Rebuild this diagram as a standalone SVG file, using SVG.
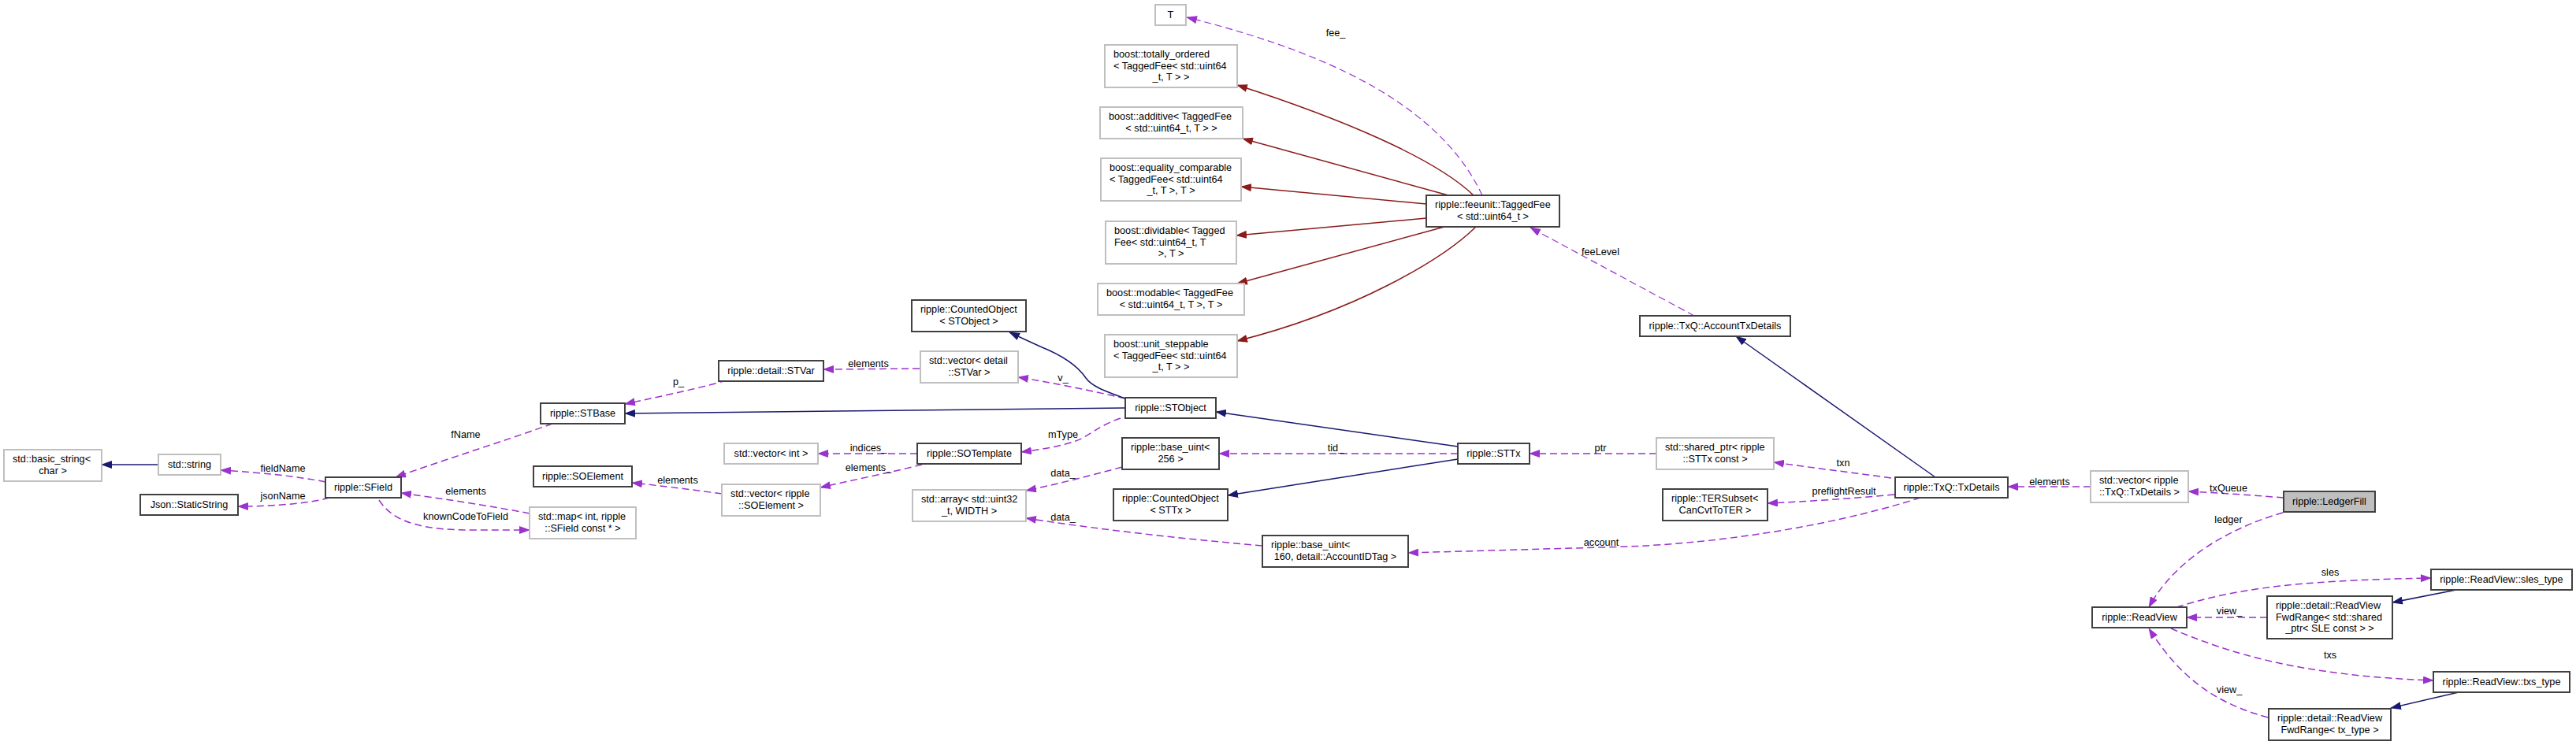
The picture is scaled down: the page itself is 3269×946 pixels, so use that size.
<svg xmlns="http://www.w3.org/2000/svg" width="3269" height="946" viewBox="0 0 3269 946">
<defs>
<style>
text{font-family:"Liberation Sans",Arial,Helvetica,sans-serif;font-size:12.7px;fill:#000}
.m{text-anchor:middle}
.doc rect{fill:#fff;stroke:#404040;stroke-width:2}
.und rect{fill:#fff;stroke:#bfbfbf;stroke-width:2}
.cur rect{fill:#bfbfbf;stroke:#404040;stroke-width:2}
#edges path{fill:none}
.inh{stroke:#191970;stroke-width:1.5;marker-end:url(#aN)}
.prv{stroke:#8b1a1a;stroke-width:1.5;marker-end:url(#aR)}
.use{stroke:#9a32cd;stroke-width:1.5;stroke-dasharray:9,5;marker-end:url(#aP)}
</style>
<marker id="aN" viewBox="0 0 14 10" refX="13" refY="5" markerWidth="14" markerHeight="10" markerUnits="userSpaceOnUse" orient="auto"><path d="M0,0 L14,5 L0,10 z" fill="#191970"/></marker>
<marker id="aR" viewBox="0 0 14 10" refX="13" refY="5" markerWidth="14" markerHeight="10" markerUnits="userSpaceOnUse" orient="auto"><path d="M0,0 L14,5 L0,10 z" fill="#8b1a1a"/></marker>
<marker id="aP" viewBox="0 0 14 10" refX="13" refY="5" markerWidth="14" markerHeight="10" markerUnits="userSpaceOnUse" orient="auto"><path d="M0,0 L14,5 L0,10 z" fill="#9a32cd"/></marker>
</defs>
<rect x="0" y="0" width="3269" height="946" fill="#fff"/>

<g id="edges">
<path class="inh" d="M201,590 L129,590"/>
<path class="use" d="M413,612 C380,605 330,600 280,597"/>
<path class="use" d="M418,632 C390,640 340,643 302,643"/>
<path class="use" d="M701,538 C640,560 560,585 502,606"/>
<path class="use" d="M672,652 C620,642 560,633 509,626"/>
<path class="use" d="M481,635 C500,665 540,673 600,673 L672,673"/>
<path class="use" d="M922,483 C880,495 830,505 793,513"/>
<path class="inh" d="M1428,518 L793,525"/>
<path class="use" d="M1167,468 L1045,469"/>
<path class="use" d="M1428,506 C1380,495 1330,485 1292,479"/>
<path class="inh" d="M1428,506 C1400,496 1385,490 1378,480 C1368,465 1350,452 1320,440 L1281,422"/>
<path class="use" d="M1422,531 C1395,540 1380,555 1365,560 C1345,567 1320,571 1296,574"/>
<path class="use" d="M1164,576 L1038,576"/>
<path class="use" d="M1170,590 C1130,600 1080,610 1041,619"/>
<path class="use" d="M916,627 C880,622 840,617 802,613"/>
<path class="use" d="M1424,593 C1380,605 1340,615 1302,623"/>
<path class="use" d="M1602,693 C1500,684 1400,673 1302,658"/>
<path class="use" d="M1850,576 L1547,576"/>
<path class="inh" d="M1850,567 L1543,523"/>
<path class="inh" d="M1850,583 L1558,629"/>
<path class="use" d="M2102,576 L1941,576"/>
<path class="use" d="M2400,607 C2350,600 2300,594 2251,587"/>
<path class="use" d="M2404,628 C2350,633 2290,637 2243,639"/>
<path class="use" d="M2437,632 C2350,660 2200,692 2032,695 L1787,702"/>
<path class="inh" d="M2456,606 L2203,427"/>
<path class="use" d="M2150,401 L1942,289" style="stroke-width:1.2"/>
<path class="use" d="M1881,248 C1835,150 1720,75 1506,22" style="stroke-width:1.2"/>
<path class="prv" d="M1870,248 C1820,200 1700,150 1570,108"/>
<path class="prv" d="M1838,248 L1577,176"/>
<path class="prv" d="M1810,259 L1575,237"/>
<path class="prv" d="M1810,277 L1569,299"/>
<path class="prv" d="M1833,288 L1570,360"/>
<path class="prv" d="M1873,288 C1830,330 1720,395 1570,433"/>
<path class="use" d="M2898,632 C2860,629 2820,626 2777,624"/>
<path class="use" d="M2653,618 L2548,618"/>
<path class="use" d="M2897,651 C2830,670 2760,710 2727,771"/>
<path class="use" d="M2762,771 C2830,750 2900,737 3085,734"/>
<path class="inh" d="M3117,749 L3036,765"/>
<path class="use" d="M2877,784 L2775,784"/>
<path class="use" d="M2755,798 C2830,830 2920,858 3088,864"/>
<path class="inh" d="M3120,879 L3034,899"/>
<path class="use" d="M2878,911 C2800,890 2760,850 2727,798"/>
<g class="lbl">
<text class="m" x="359" y="598.5">fieldName</text>
<text class="m" x="359" y="633.5">jsonName</text>
<text class="m" x="591" y="555.5">fName</text>
<text class="m" x="591" y="627.5">elements</text>
<text class="m" x="591" y="659.5">knownCodeToField</text>
<text class="m" x="861" y="488.5">p_</text>
<text class="m" x="1102" y="465.5">elements</text>
<text class="m" x="1349" y="483.5">v_</text>
<text class="m" x="1349" y="555.5">mType</text>
<text class="m" x="1102" y="572.5">indices_</text>
<text class="m" x="1102" y="597.5">elements_</text>
<text class="m" x="860" y="613.5">elements</text>
<text class="m" x="1349" y="604.5">data_</text>
<text class="m" x="1349" y="660.5">data_</text>
<text class="m" x="1695" y="572.5">tid_</text>
<text class="m" x="2031" y="572.5">ptr</text>
<text class="m" x="2339" y="591.5">txn</text>
<text class="m" x="2340" y="627.5">preflightResult</text>
<text class="m" x="2032" y="692.5">account</text>
<text class="m" x="2031" y="323.5">feeLevel</text>
<text class="m" x="1695" y="45.5">fee_</text>
<text class="m" x="2828" y="623.5">txQueue</text>
<text class="m" x="2601" y="615.5">elements</text>
<text class="m" x="2828" y="663.5">ledger</text>
<text class="m" x="2957" y="730.5">sles</text>
<text class="m" x="2829" y="779.5">view_</text>
<text class="m" x="2957" y="835.5">txs</text>
<text class="m" x="2829" y="879.5">view_</text>
</g>
</g>

<g id="n_T" class="und"><rect x="1466" y="6" width="39" height="26"/><text class="m" x="1485.5" y="22.5">T</text></g>
<g id="n_totally_ordered" class="und"><rect x="1402" y="57" width="168" height="54"/><text x="1413" y="73">boost::totally_ordered</text><text x="1413" y="87.5">&lt; TaggedFee&lt; std::uint64</text><text class="m" x="1486" y="102">_t, T &gt; &gt;</text></g>
<g id="n_additive" class="und"><rect x="1396" y="136" width="181" height="40"/><text x="1407" y="152.25">boost::additive&lt; TaggedFee</text><text class="m" x="1486.5" y="166.75">&lt; std::uint64_t, T &gt; &gt;</text></g>
<g id="n_equality" class="und"><rect x="1397" y="201" width="178" height="54"/><text x="1408" y="217">boost::equality_comparable</text><text x="1408" y="231.5">&lt; TaggedFee&lt; std::uint64</text><text class="m" x="1486" y="246">_t, T &gt;, T &gt;</text></g>
<g id="n_dividable" class="und"><rect x="1403" y="281" width="166" height="54"/><text x="1414" y="297">boost::dividable&lt; Tagged</text><text x="1414" y="311.5">Fee&lt; std::uint64_t, T</text><text class="m" x="1486" y="326">&gt;, T &gt;</text></g>
<g id="n_modable" class="und"><rect x="1393" y="360" width="186" height="40"/><text x="1404" y="376.25">boost::modable&lt; TaggedFee</text><text class="m" x="1486" y="390.75">&lt; std::uint64_t, T &gt;, T &gt;</text></g>
<g id="n_unit_steppable" class="und"><rect x="1402" y="425" width="168" height="54"/><text x="1413" y="441">boost::unit_steppable</text><text x="1413" y="455.5">&lt; TaggedFee&lt; std::uint64</text><text class="m" x="1486" y="470">_t, T &gt; &gt;</text></g>
<g id="n_TaggedFee" class="doc"><rect x="1810" y="248" width="169" height="40"/><text x="1821" y="264.25">ripple::feeunit::TaggedFee</text><text class="m" x="1894.5" y="278.75">&lt; std::uint64_t &gt;</text></g>
<g id="n_CountedObject_STObject" class="doc"><rect x="1157" y="381" width="145" height="40"/><text x="1168" y="397.25">ripple::CountedObject</text><text class="m" x="1229.5" y="411.75">&lt; STObject &gt;</text></g>
<g id="n_STVar" class="doc"><rect x="912" y="458" width="133" height="26"/><text class="m" x="978.5" y="474.5">ripple::detail::STVar</text></g>
<g id="n_vector_STVar" class="und"><rect x="1168" y="446" width="124" height="40"/><text x="1179" y="462.25">std::vector&lt; detail</text><text class="m" x="1230" y="476.75">::STVar &gt;</text></g>
<g id="n_STBase" class="doc"><rect x="686" y="512" width="107" height="26"/><text class="m" x="739.5" y="528.5">ripple::STBase</text></g>
<g id="n_STObject" class="doc"><rect x="1428" y="505" width="115" height="26"/><text class="m" x="1485.5" y="521.5">ripple::STObject</text></g>
<g id="n_vector_int" class="und"><rect x="919" y="563" width="119" height="26"/><text class="m" x="978.5" y="579.5">std::vector&lt; int &gt;</text></g>
<g id="n_SOTemplate" class="doc"><rect x="1164" y="563" width="132" height="26"/><text class="m" x="1230" y="579.5">ripple::SOTemplate</text></g>
<g id="n_base_uint_256" class="doc"><rect x="1424" y="556" width="123" height="40"/><text x="1435" y="572.25">ripple::base_uint&lt;</text><text class="m" x="1485.5" y="586.75">256 &gt;</text></g>
<g id="n_STTx" class="doc"><rect x="1850" y="563" width="91" height="26"/><text class="m" x="1895.5" y="579.5">ripple::STTx</text></g>
<g id="n_shared_ptr" class="und"><rect x="2102" y="556" width="149" height="40"/><text x="2113" y="572.25">std::shared_ptr&lt; ripple</text><text class="m" x="2176.5" y="586.75">::STTx const &gt;</text></g>
<g id="n_AccountTxDetails" class="doc"><rect x="2081" y="401" width="191" height="26"/><text class="m" x="2176.5" y="417.5">ripple::TxQ::AccountTxDetails</text></g>
<g id="n_TERSubset" class="doc"><rect x="2110" y="621" width="133" height="40"/><text x="2121" y="637.25">ripple::TERSubset&lt;</text><text class="m" x="2176.5" y="651.75">CanCvtToTER &gt;</text></g>
<g id="n_TxDetails" class="doc"><rect x="2405" y="606" width="143" height="26"/><text class="m" x="2476.5" y="622.5">ripple::TxQ::TxDetails</text></g>
<g id="n_vector_TxDetails" class="und"><rect x="2653" y="598" width="124" height="40"/><text x="2664" y="614.25">std::vector&lt; ripple</text><text class="m" x="2715" y="628.75">::TxQ::TxDetails &gt;</text></g>
<g id="n_LedgerFill" class="cur"><rect x="2898" y="624" width="116" height="26"/><text class="m" x="2956" y="640.5">ripple::LedgerFill</text></g>
<g id="n_ReadView" class="doc"><rect x="2655" y="771" width="120" height="26"/><text class="m" x="2715" y="787.5">ripple::ReadView</text></g>
<g id="n_sles_type" class="doc"><rect x="3085" y="723" width="179" height="26"/><text class="m" x="3174.5" y="739.5">ripple::ReadView::sles_type</text></g>
<g id="n_FwdRange_SLE" class="doc"><rect x="2877" y="757" width="159" height="54"/><text x="2888" y="773">ripple::detail::ReadView</text><text x="2888" y="787.5">FwdRange&lt; std::shared</text><text class="m" x="2956.5" y="802">_ptr&lt; SLE const &gt; &gt;</text></g>
<g id="n_txs_type" class="doc"><rect x="3088" y="853" width="173" height="26"/><text class="m" x="3174.5" y="869.5">ripple::ReadView::txs_type</text></g>
<g id="n_FwdRange_tx" class="doc"><rect x="2879" y="900" width="155" height="40"/><text x="2890" y="916.25">ripple::detail::ReadView</text><text class="m" x="2956.5" y="930.75">FwdRange&lt; tx_type &gt;</text></g>
<g id="n_CountedObject_STTx" class="doc"><rect x="1413" y="621" width="145" height="40"/><text x="1424" y="637.25">ripple::CountedObject</text><text class="m" x="1485.5" y="651.75">&lt; STTx &gt;</text></g>
<g id="n_base_uint_160" class="doc"><rect x="1602" y="680" width="185" height="40"/><text x="1613" y="696.25">ripple::base_uint&lt;</text><text class="m" x="1694.5" y="710.75">160, detail::AccountIDTag &gt;</text></g>
<g id="n_array" class="und"><rect x="1158" y="622" width="144" height="40"/><text x="1169" y="638.25">std::array&lt; std::uint32</text><text class="m" x="1230" y="652.75">_t, WIDTH &gt;</text></g>
<g id="n_vector_SOElement" class="und"><rect x="916" y="615" width="125" height="40"/><text x="927" y="631.25">std::vector&lt; ripple</text><text class="m" x="978.5" y="645.75">::SOElement &gt;</text></g>
<g id="n_SOElement" class="doc"><rect x="677" y="592" width="125" height="26"/><text class="m" x="739.5" y="608.5">ripple::SOElement</text></g>
<g id="n_map" class="und"><rect x="672" y="644" width="135" height="40"/><text x="683" y="660.25">std::map&lt; int, ripple</text><text class="m" x="739.5" y="674.75">::SField const * &gt;</text></g>
<g id="n_SField" class="doc"><rect x="413" y="606" width="96" height="26"/><text class="m" x="461" y="622.5">ripple::SField</text></g>
<g id="n_StaticString" class="doc"><rect x="178" y="628" width="124" height="26"/><text class="m" x="240" y="644.5">Json::StaticString</text></g>
<g id="n_string" class="und"><rect x="201" y="577" width="79" height="26"/><text class="m" x="240.5" y="593.5">std::string</text></g>
<g id="n_basic_string" class="und"><rect x="5" y="571" width="124" height="40"/><text x="16" y="587.25">std::basic_string&lt;</text><text class="m" x="67" y="601.75">char &gt;</text></g>
</svg>
